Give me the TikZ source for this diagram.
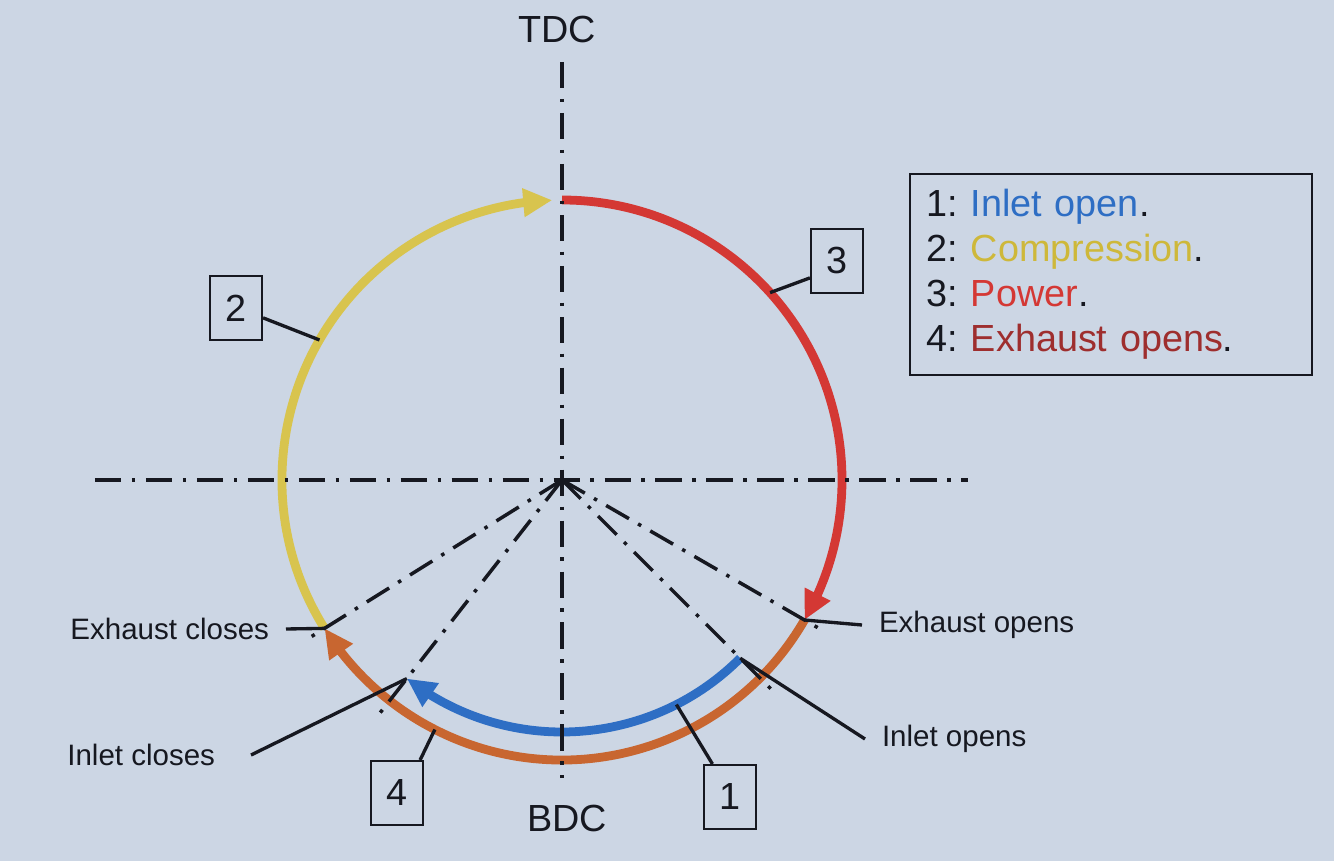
\documentclass[tikz,border=0pt]{standalone}
\usepackage{fontspec}
\setmainfont{Liberation Sans}
\usetikzlibrary{positioning,arrows.meta,bending}
\definecolor{paper}{RGB}{204,214,228}
\definecolor{inkline}{RGB}{22,24,32}
\definecolor{cmpyellow}{RGB}{216,196,78}
\definecolor{pwrred}{RGB}{212,56,52}
\definecolor{exhorange}{RGB}{200,102,48}
\definecolor{inblue}{RGB}{46,110,196}
\definecolor{cmptext}{RGB}{206,184,58}
\definecolor{exhmaroon}{RGB}{158,46,46}

\begin{document}
\frenchspacing
\begin{tikzpicture}[x=0.02cm, y=0.02cm, color=inkline,
  centre/.style={line width=2pt, dash pattern=on 15pt off 6pt on 2pt off 6pt},
  cyclearc/.style={line width=5pt, -{Triangle[length=0.58cm, width=0.54cm]}},
  leader/.style={line width=1.9pt},
  numbox/.style={draw, line width=1.2pt, minimum width=1.04cm, minimum height=1.28cm, inner sep=0pt, font=\fontsize{21.5}{25}\selectfont},
  lbl/.style={font=\fontsize{16.8}{20}\selectfont, inner sep=0pt, outer xsep=0.34cm},
  big/.style={font=\fontsize{21.5}{25}\selectfont}]
\fill[paper] (-562,-381) rectangle (772,480);
\useasboundingbox (-562,-381) rectangle (772,480);

% the four strokes round the crank circle
\draw[cyclearc, cmpyellow] (212:280) arc[start angle=212, end angle=92, radius=280];
\draw[cyclearc, pwrred] (90:280) arc[start angle=90, end angle=-30, radius=280];
\draw[cyclearc, exhorange] (-30:280) arc[start angle=-30, end angle=-148, radius=280];
\draw[cyclearc, inblue] (-45:252) arc[start angle=-45, end angle=-128, radius=252];

% centre lines and valve timing lines
\draw[centre] (-467,0) -- (406,0);
\draw[centre] (0,418) -- (0,-298);
\foreach \a in {-30,-45,212,232} \draw[centre] (0,0) -- (\a:305);

\coordinate (eopen) at (-30:280);
\coordinate (iopen) at (-45:252);
\coordinate (eclose) at (212:280);
\coordinate (iclose) at (232:252);
\coordinate (on1) at (-63:252);
\coordinate (on2) at (150:280);
\coordinate (on3) at (42:280);
\coordinate (on4) at (243:280);

\node[big] (tdc) at (-5,450) {TDC};
\node[big] (bdc) at (5,-338) {BDC};

\node[numbox] (b1) at (168,-317) {1};
\node[numbox] (b2) at (-326,172) {2};
\node[numbox] (b3) at (275,219) {3};
\node[numbox] (b4) at (-165,-313) {4};
\draw[leader] (b1.118) -- (on1);
\draw[leader] (b2.-20) -- (on2);
\draw[leader] (b3.212) -- (on3);
\draw[leader] (b4.55) -- (on4);

\node[lbl, anchor=west] (eo) at (300,-145) {Exhaust opens};
\node[lbl, anchor=west] (io) at (303,-259) {Inlet opens};
\node[lbl, anchor=east] (ec) at (-276,-149) {Exhaust closes};
\node[lbl, anchor=east, outer xsep=0.72cm] (ic) at (-311,-275) {Inlet closes};
\draw[leader] (eo.west) -- (eopen);
\draw[leader] (io.west) -- (iopen);
\draw[leader] (ec.east) -- (eclose);
\draw[leader] (ic.east) -- (iclose);

% key
\node[draw, line width=1pt, anchor=north west, text width=7.36cm, minimum height=4.02cm,
  inner xsep=0.34cm, align=left, font=\fontsize{21.5}{25.5}\selectfont] (key) at (347,307)
  {1: \textcolor{inblue}{Inlet open}.\\
   2: \textcolor{cmptext}{Compression}.\\
   3: \textcolor{pwrred}{Power}.\\
   4: \textcolor{exhmaroon}{Exhaust opens}.};
\end{tikzpicture}
\end{document}
